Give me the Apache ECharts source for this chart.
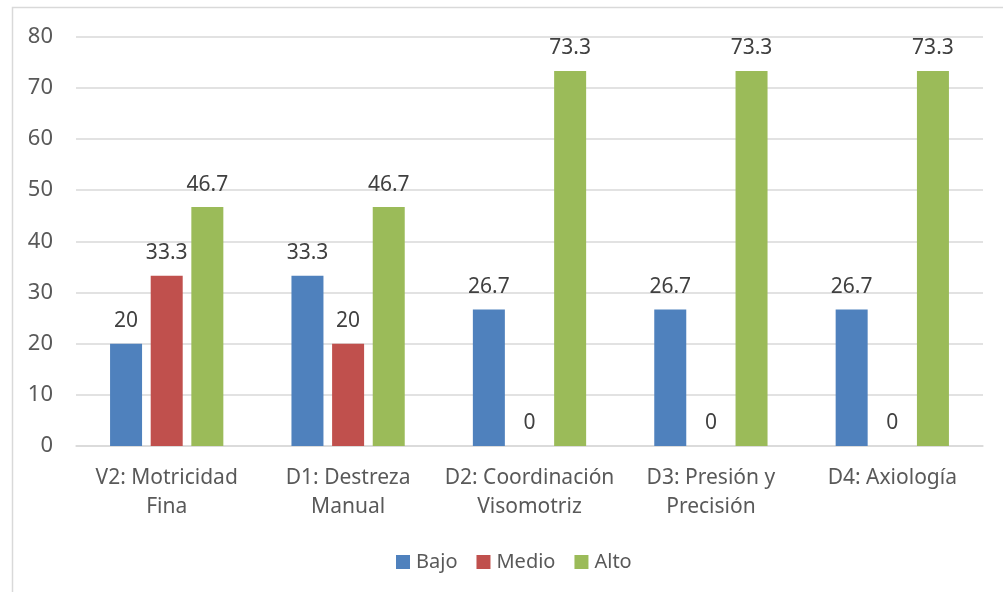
<!DOCTYPE html>
<html><head><meta charset="utf-8">
<script src="https://cdn.jsdelivr.net/npm/echarts@6/dist/echarts.min.js"></script>
<style>html,body{margin:0;padding:0;background:#fff}#c{width:1003px;height:592px}</style>
</head><body><div id="c"></div>
<script>
const categories = ['V2: Motricidad\nFina', 'D1: Destreza\nManual', 'D2: Coordinación\nVisomotriz', 'D3: Presión y\nPrecisión', 'D4: Axiología'];
const bajo = [20, 33.3, 26.7, 26.7, 26.7];
const medio = [33.3, 20, 0, 0, 0];
const alto = [46.7, 46.7, 73.3, 73.3, 73.3];
const yTicks = {min: 0, max: 80, interval: 10};

const font = '"Noto Sans", sans-serif';
const chart = echarts.init(document.getElementById('c'), null, {renderer: 'canvas'});
const lbl = {show: true, position: 'top', distance: 12, color: '#404040', fontSize: 21, fontFamily: font};
function s(name, data, color) {
  return {name, type: 'bar', data, barWidth: 32, barGap: '27%', itemStyle: {color}, label: lbl, emphasis: {disabled: true}};
}
chart.setOption({
  animation: false,
  graphic: [{type: 'rect', shape: {x: 12.5, y: 7.5, width: 1200, height: 800}, style: {fill: 'none', stroke: '#d9d9d9', lineWidth: 1.5}, silent: true}],
  grid: {left: 76, right: 20, top: 36.7, bottom: 146, containLabel: false},
  legend: {
    data: ['Bajo', 'Medio', 'Alto'], left: 391, top: 547, itemWidth: 14, itemHeight: 14, itemGap: 19,
    icon: 'rect', textStyle: {color: '#595959', fontSize: 20, fontFamily: font, padding: [0, 0, 0, 1]}
  },
  xAxis: {
    type: 'category', data: categories,
    axisLine: {lineStyle: {color: '#d9d9d9', width: 1.5}}, axisTick: {show: false},
    axisLabel: {color: '#595959', fontSize: 21, fontFamily: font, margin: 18, lineHeight: 29, interval: 0}
  },
  yAxis: {
    type: 'value', min: yTicks.min, max: yTicks.max, interval: yTicks.interval,
    axisLine: {show: false}, axisTick: {show: false},
    splitLine: {lineStyle: {color: '#d9d9d9', width: 1.5}},
    axisLabel: {color: '#595959', fontSize: 22, fontFamily: font, margin: 23}
  },
  series: [s('Bajo', bajo, '#4F81BD'), s('Medio', medio, '#C0504D'), s('Alto', alto, '#9BBB59')]
});
</script></body></html>
